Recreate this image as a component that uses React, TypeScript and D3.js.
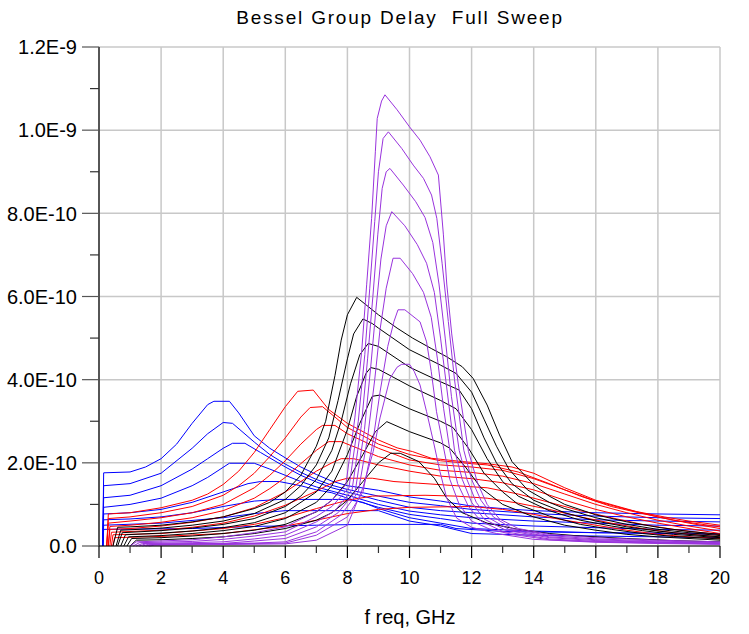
import React from "react";
import * as d3 from "d3";

type Pt = [number, number];

// frequency axis (GHz)
const xTickValues = [0, 2, 4, 6, 8, 10, 12, 14, 16, 18, 20];
const xTickLabels = ["0", "2", "4", "6", "8", "10", "12", "14", "16", "18", "20"];
// group delay axis, values in units of 1E-10 s
const yTickValues = [0, 2, 4, 6, 8, 10, 12];
const yTickLabels = ["0.0", "2.0E-10", "4.0E-10", "6.0E-10", "8.0E-10", "1.0E-9", "1.2E-9"];

const title = "Bessel Group Delay  Full Sweep";
const xTitle = "f req, GHz";

// ---- blue family ----
const blue1: Pt[] = [[0.12,0],[0.15,1.76],[1.0,1.78],[1.5,1.9],[2.0,2.1],[2.5,2.45],[3.0,2.95],[3.5,3.4],[3.7,3.48],[4.2,3.48],[4.5,3.2],[5.0,2.65],[5.5,2.35],[6.0,2.12],[6.5,1.9],[7.0,1.72],[7.5,1.56],[8.0,1.45],[9.0,1.34],[10.0,1.18],[11.0,1.08],[12.0,0.96],[13.0,0.9],[14.0,0.85],[16.0,0.8],[18.0,0.77],[20.0,0.75]];
const blue2: Pt[] = [[0.12,0],[0.15,1.45],[1.0,1.5],[2.0,1.75],[3.0,2.35],[3.5,2.7],[4.0,2.97],[4.3,2.95],[5.0,2.5],[5.5,2.2],[6.0,1.97],[6.5,1.77],[7.0,1.6],[7.5,1.46],[8.0,1.36],[9.0,1.2],[10.0,1.05],[11.0,0.97],[12.0,0.88],[14.0,0.78],[16.0,0.72],[18.0,0.68],[20.0,0.66]];
const blue3: Pt[] = [[0.12,0],[0.15,1.16],[1.0,1.22],[2.0,1.45],[3.0,1.85],[3.5,2.1],[4.0,2.35],[4.3,2.47],[4.7,2.47],[5.2,2.25],[6.0,1.9],[6.5,1.7],[7.0,1.54],[7.5,1.4],[8.0,1.3],[9.0,1.1],[10.0,0.93],[11.0,0.85],[12.0,0.8],[14.0,0.7],[16.0,0.63],[18.0,0.6],[20.0,0.58]];
const blue4: Pt[] = [[0.12,0],[0.15,0.93],[1.0,1.0],[2.0,1.15],[3.0,1.45],[3.5,1.65],[4.2,1.99],[5.0,1.99],[5.5,1.85],[6.0,1.7],[6.5,1.55],[7.0,1.42],[7.5,1.32],[8.0,1.22],[9.0,1.0],[10.0,0.84],[11.0,0.75],[12.0,0.68],[14.0,0.6],[16.0,0.55],[18.0,0.5],[20.0,0.48]];
const blue5: Pt[] = [[0.12,0],[0.15,0.77],[1.0,0.8],[2.0,0.88],[3.0,1.05],[4.0,1.3],[4.8,1.5],[5.2,1.55],[5.8,1.55],[6.5,1.45],[7.0,1.35],[7.5,1.28],[8.0,1.15],[9.0,0.93],[10.0,0.76],[11.0,0.66],[12.0,0.55],[14.0,0.48],[16.0,0.44],[18.0,0.4],[20.0,0.38]];
const blue6: Pt[] = [[0.12,0],[0.15,0.63],[1.0,0.65],[2.0,0.7],[3.0,0.8],[4.0,0.95],[5.0,1.08],[5.8,1.12],[8.0,1.12],[8.5,1.05],[9.0,0.9],[10.0,0.68],[11.0,0.55],[12.0,0.42],[14.0,0.36],[16.0,0.32],[18.0,0.3],[20.0,0.28]];
const blue7: Pt[] = [[0.12,0],[0.15,0.5],[2.0,0.55],[4.0,0.68],[5.0,0.78],[6.0,0.85],[9.0,0.85],[10.0,0.6],[11.0,0.48],[12.0,0.3],[14.0,0.26],[16.0,0.24],[18.0,0.22],[20.0,0.2]];
const blue8: Pt[] = [[0.12,0],[0.15,0.4],[3.0,0.42],[5.0,0.47],[7.0,0.5],[8.5,0.52],[11.0,0.52],[11.5,0.42],[13.0,0.35],[16.0,0.32],[20.0,0.3]];

// ---- red family ----
const red1: Pt[] = [[0.25,0],[0.3,0.77],[1.0,0.8],[2.0,0.92],[3.0,1.1],[3.5,1.25],[4.0,1.48],[4.5,1.8],[5.0,2.25],[5.5,2.8],[6.0,3.35],[6.4,3.72],[6.9,3.75],[7.4,3.28],[8.0,2.95],[8.5,2.75],[9.0,2.55],[9.6,2.36],[10.1,2.27],[10.7,2.11],[11.7,2.03],[12.5,1.98],[13.3,1.9],[14.0,1.75],[15.0,1.4],[16.0,1.1],[17.3,0.83],[18.2,0.7],[19.0,0.6],[20.0,0.5]];
const red2: Pt[] = [[0.25,0],[0.3,0.66],[1.0,0.7],[2.0,0.8],[3.0,0.95],[4.0,1.22],[4.5,1.45],[5.0,1.75],[5.5,2.15],[6.0,2.6],[6.5,3.1],[6.8,3.33],[7.2,3.35],[7.6,3.1],[8.0,2.85],[9.0,2.45],[10.0,2.2],[11.0,2.05],[12.0,1.98],[12.5,1.95],[13.5,1.78],[14.5,1.5],[15.5,1.2],[16.5,0.95],[17.5,0.78],[18.5,0.62],[20.0,0.46]];
const red3: Pt[] = [[0.25,0],[0.3,0.55],[1.0,0.6],[2.0,0.68],[3.0,0.8],[4.0,1.0],[5.0,1.4],[5.5,1.7],[6.0,2.05],[6.5,2.45],[7.0,2.8],[7.2,2.9],[7.6,2.9],[8.0,2.7],[9.0,2.35],[10.0,2.07],[11.0,1.95],[12.0,1.9],[13.0,1.82],[14.0,1.62],[15.0,1.35],[16.0,1.08],[17.0,0.88],[18.0,0.7],[19.0,0.55],[20.0,0.42]];
const red4: Pt[] = [[0.3,0],[0.35,0.47],[1.0,0.5],[2.0,0.57],[3.0,0.68],[4.0,0.85],[5.0,1.15],[5.5,1.38],[6.0,1.65],[6.5,1.98],[7.0,2.3],[7.4,2.51],[7.8,2.51],[8.5,2.3],[9.0,2.15],[10.0,1.95],[11.0,1.82],[12.0,1.77],[13.0,1.68],[14.0,1.5],[15.0,1.25],[16.0,1.0],[17.0,0.8],[18.0,0.62],[19.0,0.48],[20.0,0.36]];
const red5: Pt[] = [[0.3,0],[0.35,0.4],[1.0,0.42],[2.0,0.48],[3.0,0.57],[4.0,0.7],[5.0,0.92],[6.0,1.3],[6.5,1.55],[7.0,1.8],[7.5,2.0],[7.8,2.1],[8.2,2.1],[9.0,1.95],[10.0,1.8],[11.0,1.68],[12.0,1.62],[13.0,1.52],[14.0,1.35],[15.0,1.1],[16.0,0.88],[17.0,0.7],[18.0,0.55],[19.0,0.42],[20.0,0.3]];
const red6: Pt[] = [[0.35,0],[0.4,0.33],[2.0,0.38],[3.0,0.45],[4.0,0.55],[5.0,0.72],[6.0,0.98],[7.0,1.32],[7.6,1.55],[8.0,1.63],[8.8,1.63],[9.5,1.55],[10.5,1.5],[11.5,1.45],[12.5,1.4],[13.5,1.25],[14.5,1.05],[15.5,0.85],[16.5,0.68],[17.5,0.52],[18.5,0.4],[20.0,0.27]];
const red7: Pt[] = [[0.4,0],[0.45,0.27],[2.0,0.3],[4.0,0.42],[5.0,0.52],[6.0,0.68],[7.0,0.9],[8.0,1.1],[8.8,1.2],[10.5,1.22],[11.5,1.2],[12.5,1.15],[13.5,1.03],[14.5,0.88],[15.5,0.7],[16.5,0.55],[17.5,0.42],[18.5,0.32],[20.0,0.22]];
const red8: Pt[] = [[0.45,0],[0.5,0.2],[2.0,0.23],[4.0,0.3],[6.0,0.48],[7.0,0.62],[8.0,0.78],[9.0,0.88],[10.0,0.93],[12.0,0.95],[13.0,0.88],[14.0,0.76],[15.0,0.62],[16.0,0.5],[17.0,0.38],[18.0,0.28],[19.0,0.22],[20.0,0.18]];

// ---- black family ----
const black1: Pt[] = [[0.45,0],[0.6,0.45],[1.0,0.46],[2.0,0.5],[3.0,0.58],[4.0,0.7],[5.0,0.9],[5.5,1.05],[6.0,1.3],[6.5,1.7],[7.0,2.4],[7.3,3.0],[7.6,4.1],[7.8,4.95],[8.0,5.56],[8.3,5.98],[8.6,5.8],[9.0,5.56],[9.6,5.24],[10.1,5.0],[10.7,4.75],[11.2,4.55],[11.7,4.31],[12.05,4.03],[12.5,3.39],[12.9,2.67],[13.3,2.03],[14.0,1.47],[14.5,1.2],[15.0,1.0],[16.0,0.75],[17.0,0.58],[18.0,0.45],[19.0,0.35],[20.0,0.28]];
const black2: Pt[] = [[0.55,0],[0.7,0.38],[1.0,0.39],[2.0,0.43],[3.0,0.5],[4.0,0.6],[5.0,0.78],[6.0,1.12],[6.5,1.45],[7.0,1.95],[7.4,2.6],[7.7,3.5],[8.0,4.5],[8.2,5.1],[8.5,5.46],[8.8,5.35],[9.0,5.24],[10.0,4.72],[11.0,4.35],[11.5,4.15],[12.0,3.7],[12.4,3.05],[12.8,2.4],[13.2,1.85],[13.8,1.35],[14.5,1.05],[15.0,0.9],[16.0,0.68],[17.0,0.52],[18.0,0.4],[19.0,0.32],[20.0,0.25]];
const black3: Pt[] = [[0.6,0],[0.75,0.32],[2.0,0.37],[3.0,0.43],[4.0,0.52],[5.0,0.66],[6.0,0.95],[6.5,1.2],[7.0,1.6],[7.5,2.3],[7.8,3.0],[8.1,3.9],[8.4,4.6],[8.67,4.87],[9.0,4.8],[10.0,4.3],[11.0,3.95],[11.6,3.75],[12.0,3.3],[12.4,2.6],[12.8,2.0],[13.3,1.5],[14.0,1.1],[15.0,0.8],[16.0,0.6],[17.0,0.46],[18.0,0.36],[19.0,0.28],[20.0,0.22]];
const black4: Pt[] = [[0.7,0],[0.85,0.27],[2.0,0.31],[3.0,0.36],[4.0,0.44],[5.0,0.56],[6.0,0.8],[7.0,1.3],[7.5,1.8],[8.0,2.8],[8.3,3.6],[8.6,4.15],[8.75,4.29],[9.0,4.25],[10.0,3.85],[11.0,3.5],[11.5,3.3],[12.0,2.8],[12.5,2.1],[13.0,1.55],[13.5,1.2],[14.5,0.85],[15.5,0.62],[16.5,0.48],[17.5,0.37],[18.5,0.28],[20.0,0.2]];
const black5: Pt[] = [[0.8,0],[0.95,0.22],[2.0,0.25],[3.0,0.3],[4.0,0.37],[5.0,0.47],[6.0,0.66],[7.0,1.05],[7.5,1.45],[8.0,2.2],[8.4,2.95],[8.8,3.6],[9.05,3.63],[10.0,3.3],[11.0,3.0],[11.4,2.85],[11.9,2.35],[12.4,1.75],[13.0,1.3],[13.5,1.0],[14.5,0.72],[15.5,0.52],[16.5,0.4],[17.5,0.3],[18.5,0.23],[20.0,0.17]];
const black6: Pt[] = [[0.9,0],[1.05,0.18],[2.0,0.2],[3.0,0.24],[4.0,0.3],[5.0,0.38],[6.0,0.52],[7.0,0.82],[7.5,1.1],[8.0,1.55],[8.5,2.2],[8.9,2.75],[9.27,2.99],[10.0,2.75],[11.0,2.48],[11.3,2.35],[11.8,1.9],[12.3,1.4],[13.0,1.0],[14.0,0.7],[15.0,0.5],[16.0,0.38],[17.0,0.28],[18.0,0.22],[20.0,0.14]];
const black7: Pt[] = [[1.0,0],[1.2,0.14],[2.0,0.15],[3.0,0.18],[4.0,0.22],[5.0,0.3],[6.0,0.42],[7.0,0.62],[7.5,0.8],[8.0,1.1],[8.5,1.55],[9.0,2.0],[9.4,2.23],[9.7,2.23],[10.3,2.03],[10.8,1.63],[11.2,1.15],[11.7,0.8],[12.5,0.55],[13.5,0.4],[14.5,0.3],[15.5,0.24],[17.0,0.18],[18.5,0.13],[20.0,0.1]];

// ---- purple family ----
const purple1: Pt[] = [[1.0,0],[1.2,0.1],[2.0,0.12],[3.0,0.15],[4.0,0.22],[5.0,0.32],[6.0,0.46],[7.0,0.83],[7.5,1.1],[7.95,1.47],[8.24,3.08],[8.46,4.68],[8.62,6.28],[8.78,7.88],[8.9,9.48],[8.96,10.28],[9.1,10.7],[9.21,10.85],[9.6,10.49],[10.0,10.08],[10.34,9.76],[10.66,9.36],[10.93,8.92],[11.09,7.5],[11.2,6.3],[11.36,5.1],[11.57,3.9],[11.9,2.27],[12.2,1.5],[12.5,1.0],[12.9,0.65],[13.5,0.42],[14.5,0.28],[16.0,0.2],[18.0,0.14],[20.0,0.1]];
const purple2: Pt[] = [[1.1,0],[1.3,0.08],[3.0,0.11],[4.0,0.16],[5.0,0.24],[6.0,0.34],[7.0,0.71],[7.5,0.95],[8.05,1.4],[8.35,3.0],[8.56,4.6],[8.72,6.2],[8.88,7.8],[9.0,9.0],[9.15,9.8],[9.32,9.96],[9.75,9.56],[10.12,9.16],[10.45,8.84],[10.71,8.44],[10.88,7.88],[11.05,6.8],[11.25,5.4],[11.45,4.0],[11.75,2.3],[12.0,1.6],[12.3,1.1],[12.7,0.7],[13.3,0.42],[14.5,0.25],[16.0,0.17],[18.0,0.12],[20.0,0.08]];
const purple3: Pt[] = [[1.2,0],[1.4,0.06],[3.0,0.08],[4.0,0.1],[5.0,0.17],[6.0,0.26],[7.0,0.58],[7.6,0.85],[8.15,1.35],[8.45,2.9],[8.65,4.5],[8.82,6.0],[8.98,7.5],[9.12,8.6],[9.25,9.0],[9.37,9.08],[9.8,8.68],[10.2,8.28],[10.5,7.9],[10.75,7.3],[10.95,6.3],[11.15,5.0],[11.35,3.6],[11.6,2.3],[11.85,1.6],[12.15,1.05],[12.5,0.7],[13.2,0.4],[14.5,0.22],[16.0,0.15],[18.0,0.1],[20.0,0.07]];
const purple4: Pt[] = [[1.3,0],[1.5,0.05],[4.0,0.06],[5.0,0.12],[6.0,0.18],[7.0,0.46],[7.7,0.8],[8.25,1.3],[8.55,2.8],[8.75,4.3],[8.92,5.7],[9.08,6.9],[9.25,7.7],[9.43,8.04],[9.85,7.7],[10.25,7.25],[10.55,6.8],[10.8,6.1],[11.0,5.0],[11.2,3.8],[11.45,2.3],[11.7,1.6],[12.0,1.05],[12.4,0.65],[13.1,0.38],[14.5,0.2],[16.0,0.13],[18.0,0.09],[20.0,0.06]];
const purple5: Pt[] = [[1.4,0],[1.6,0.04],[5.0,0.07],[6.0,0.1],[7.0,0.34],[7.8,0.75],[8.35,1.3],[8.65,2.6],[8.88,4.0],[9.05,5.2],[9.25,6.2],[9.47,6.92],[9.7,6.92],[10.1,6.55],[10.45,6.1],[10.7,5.5],[10.9,4.5],[11.1,3.3],[11.3,2.3],[11.55,1.5],[11.9,0.95],[12.3,0.6],[13.0,0.35],[14.5,0.17],[16.0,0.11],[18.0,0.08],[20.0,0.05]];
const purple6: Pt[] = [[1.5,0],[1.7,0.03],[6.0,0.07],[7.0,0.26],[8.0,0.7],[8.5,1.3],[8.8,2.4],[9.05,3.7],[9.3,4.8],[9.5,5.4],[9.63,5.68],[9.85,5.68],[10.34,5.39],[10.55,4.91],[10.7,4.2],[10.87,3.23],[11.08,2.43],[11.3,1.6],[11.6,1.0],[12.0,0.6],[12.6,0.4],[13.3,0.28],[14.5,0.15],[16.0,0.1],[18.0,0.07],[20.0,0.05]];
const purple7: Pt[] = [[1.6,0],[1.8,0.02],[6.0,0.05],[7.0,0.14],[8.0,0.5],[8.5,1.4],[8.83,2.27],[9.05,3.08],[9.37,4.03],[9.6,4.3],[9.75,4.37],[10.0,4.37],[10.15,4.2],[10.34,3.87],[10.55,3.23],[10.77,2.51],[10.98,1.79],[11.2,1.15],[11.52,0.67],[12.0,0.45],[12.8,0.3],[14.0,0.16],[16.0,0.09],[18.0,0.06],[20.0,0.04]];

const families = [
  { color: "#0000ff", curves: [blue1, blue2, blue3, blue4, blue5, blue6, blue7, blue8] },
  { color: "#ff0000", curves: [red1, red2, red3, red4, red5, red6, red7, red8] },
  { color: "#000000", curves: [black1, black2, black3, black4, black5, black6, black7] },
  { color: "#9933dd", curves: [purple1, purple2, purple3, purple4, purple5, purple6, purple7] },
];

const FONT = "'Liberation Sans', Arial, Helvetica, sans-serif";

export default function App() {
  const left = 99, right = 720, top = 47, bottom = 546;
  const x = d3.scaleLinear().domain([0, 20]).range([left, right]);
  const y = d3.scaleLinear().domain([0, 12]).range([bottom, top]);
  const line = d3.line<Pt>().x((d) => x(d[0])).y((d) => y(d[1]));
  const xMinor = d3.range(1, 20, 2);
  const yMinor = d3.range(1, 12, 2);

  return (
    <svg
      width={749}
      height={634}
      style={{ position: "absolute", left: 0, top: 0, background: "#fff" }}
      fontFamily={FONT}
    >
      <rect x={0} y={0} width={749} height={634} fill="#ffffff" />
      {/* grid */}
      {xTickValues.map((v) => (
        <line key={"gx" + v} x1={x(v)} x2={x(v)} y1={top} y2={bottom} stroke="#c8c8c8" strokeWidth={1.5} />
      ))}
      {yTickValues.map((v) => (
        <line key={"gy" + v} x1={left} x2={right} y1={y(v)} y2={y(v)} stroke="#c8c8c8" strokeWidth={1.5} />
      ))}
      {/* curves */}
      {families.map((fam, fi) =>
        fam.curves.map((c, ci) => (
          <path key={fi + "-" + ci} d={line(c) || ""} fill="none" stroke={fam.color} strokeWidth={1} />
        ))
      )}
      {/* axes */}
      <line x1={left} x2={left} y1={top} y2={bottom} stroke="#000" strokeWidth={1.2} />
      <line x1={left} x2={right} y1={bottom} y2={bottom} stroke="#000" strokeWidth={1.2} />
      {yTickValues.map((v, i) => (
        <g key={"yt" + v}>
          <line x1={left - 17} x2={left} y1={y(v)} y2={y(v)} stroke="#555" strokeWidth={1.2} />
          <text x={77} y={y(v)} dy="0.36em" textAnchor="end" fontSize={20} fill="#000">
            {yTickLabels[i]}
          </text>
        </g>
      ))}
      {yMinor.map((v) => (
        <line key={"ym" + v} x1={left - 9} x2={left} y1={y(v)} y2={y(v)} stroke="#333" strokeWidth={1.2} />
      ))}
      {xTickValues.map((v, i) => (
        <g key={"xt" + v}>
          <line x1={x(v)} x2={x(v)} y1={bottom} y2={bottom + 12} stroke="#000" strokeWidth={1.2} />
          <text x={x(v)} y={584} textAnchor="middle" fontSize={18} fill="#000">
            {xTickLabels[i]}
          </text>
        </g>
      ))}
      {xMinor.map((v) => (
        <line key={"xm" + v} x1={x(v)} x2={x(v)} y1={bottom} y2={bottom + 7} stroke="#333" strokeWidth={1.2} />
      ))}
      <text x={410} y={624} textAnchor="middle" fontSize={20} fill="#000" style={{ whiteSpace: "pre" }}>
        {xTitle}
      </text>
      <text x={400} y={24} textAnchor="middle" fontSize={19} letterSpacing={1.8} fill="#000" style={{ whiteSpace: "pre" }}>
        {title}
      </text>
    </svg>
  );
}
